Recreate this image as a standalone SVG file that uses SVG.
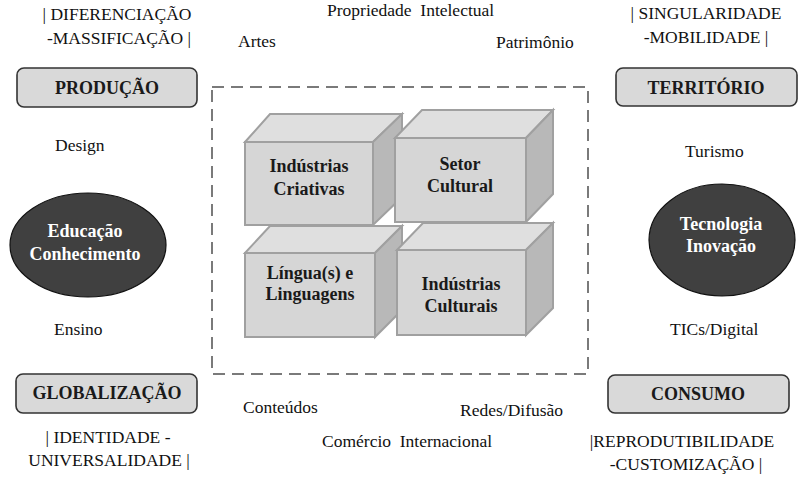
<svg xmlns="http://www.w3.org/2000/svg" width="800" height="478" viewBox="0 0 800 478">
<style>
.t{font-family:'Liberation Serif','Times New Roman',Tinos,'DejaVu Serif',serif;font-size:17.5px;fill:#111}
.c{text-anchor:middle}
.b{font-family:'Liberation Serif','Times New Roman',Tinos,'DejaVu Serif',serif;font-weight:bold;font-size:18px;fill:#1a1a1a;text-anchor:middle}
.w{fill:#fff}
.box{fill:#d9d9d9;stroke:#333;stroke-width:1.6}
.ell{fill:#404040;stroke:#111;stroke-width:1.2}
.front{fill:#d6d6d6;stroke:#a0a0a0;stroke-width:2}
.top{fill:#dfdfdf;stroke:#a0a0a0;stroke-width:2}
.side{fill:#b8b8b8;stroke:#a0a0a0;stroke-width:2}
</style>
<rect width="800" height="478" fill="#fff"/>
<g id="frame">
<rect x="212" y="87" width="376" height="287" fill="none" stroke="#7a7a7a" stroke-width="2" stroke-dasharray="12,7"/>
</g>
<g id="cube-criativas">
<polygon class="top" points="245,142 270,114 402,114 373,142"/>
<polygon class="side" points="373,142 402,114 402,197 373,225"/>
<rect class="front" x="245" y="142" width="128" height="83"/>
<text class="b" x="309" y="172">Indústrias</text>
<text class="b" x="309" y="195">Criativas</text>
</g>
<g id="cube-setor">
<polygon class="top" points="395,138 422,110 553,110 526,138"/>
<polygon class="side" points="526,138 553,110 553,194 526,222"/>
<rect class="front" x="395" y="138" width="131" height="84"/>
<text class="b" x="460" y="170">Setor</text>
<text class="b" x="460" y="192">Cultural</text>
</g>
<g id="cube-lingua">
<polygon class="top" points="245,253 270,226 402,226 375,253"/>
<polygon class="side" points="375,253 402,226 402,310 375,337"/>
<rect class="front" x="245" y="253" width="130" height="84"/>
<text class="b" x="310" y="279">Língua(s) e</text>
<text class="b" x="310" y="300">Linguagens</text>
</g>
<g id="cube-culturais">
<polygon class="top" points="397,250 423,223 553,223 526,250"/>
<polygon class="side" points="526,250 553,223 553,308 526,335"/>
<rect class="front" x="397" y="250" width="129" height="85"/>
<text class="b" x="461" y="290">Indústrias</text>
<text class="b" x="461" y="312">Culturais</text>
</g>
<g id="producao">
<rect class="box" x="17" y="68" width="180" height="39" rx="7"/>
<text class="b" x="107" y="94">PRODUÇÃO</text>
</g>
<g id="territorio">
<rect class="box" x="616" y="68" width="181" height="38" rx="7"/>
<text class="b" x="706" y="94">TERRITÓRIO</text>
</g>
<g id="globalizacao">
<rect class="box" x="16" y="374" width="181" height="39" rx="7"/>
<text class="b" x="107" y="399">GLOBALIZAÇÃO</text>
</g>
<g id="consumo">
<rect class="box" x="608" y="375" width="181" height="38" rx="7"/>
<text class="b" x="698" y="400">CONSUMO</text>
</g>
<g id="educacao">
<ellipse class="ell" cx="88" cy="245" rx="78" ry="52"/>
<text class="b w" x="85" y="237">Educação</text>
<text class="b w" x="85" y="260">Conhecimento</text>
</g>
<g id="tecnologia">
<ellipse class="ell" cx="722" cy="240" rx="73" ry="56"/>
<text class="b w" x="721" y="230">Tecnologia</text>
<text class="b w" x="721" y="252">Inovação</text>
</g>
<g id="labels">
<text class="t c" x="117" y="20">| DIFERENCIAÇÃO</text>
<text class="t c" x="119" y="44">-MASSIFICAÇÃO |</text>
<text class="t c" x="706" y="19">| SINGULARIDADE</text>
<text class="t c" x="706" y="43">-MOBILIDADE |</text>
<text class="t c" x="108" y="443">| IDENTIDADE -</text>
<text class="t c" x="109" y="466">UNIVERSALIDADE |</text>
<text class="t c" x="682" y="447">|REPRODUTIBILIDADE</text>
<text class="t c" x="686" y="470">-CUSTOMIZAÇÃO |</text>
<text class="t" x="327" y="16" xml:space="preserve">Propriedade  Intelectual</text>
<text class="t" x="238" y="47">Artes</text>
<text class="t" x="496" y="48">Patrimônio</text>
<text class="t" x="55" y="151">Design</text>
<text class="t" x="685" y="157">Turismo</text>
<text class="t" x="54" y="335">Ensino</text>
<text class="t" x="670" y="335">TICs/Digital</text>
<text class="t" x="243" y="413">Conteúdos</text>
<text class="t" x="460" y="416">Redes/Difusão</text>
<text class="t" x="322" y="447" xml:space="preserve">Comércio  Internacional</text>
</g>
</svg>
